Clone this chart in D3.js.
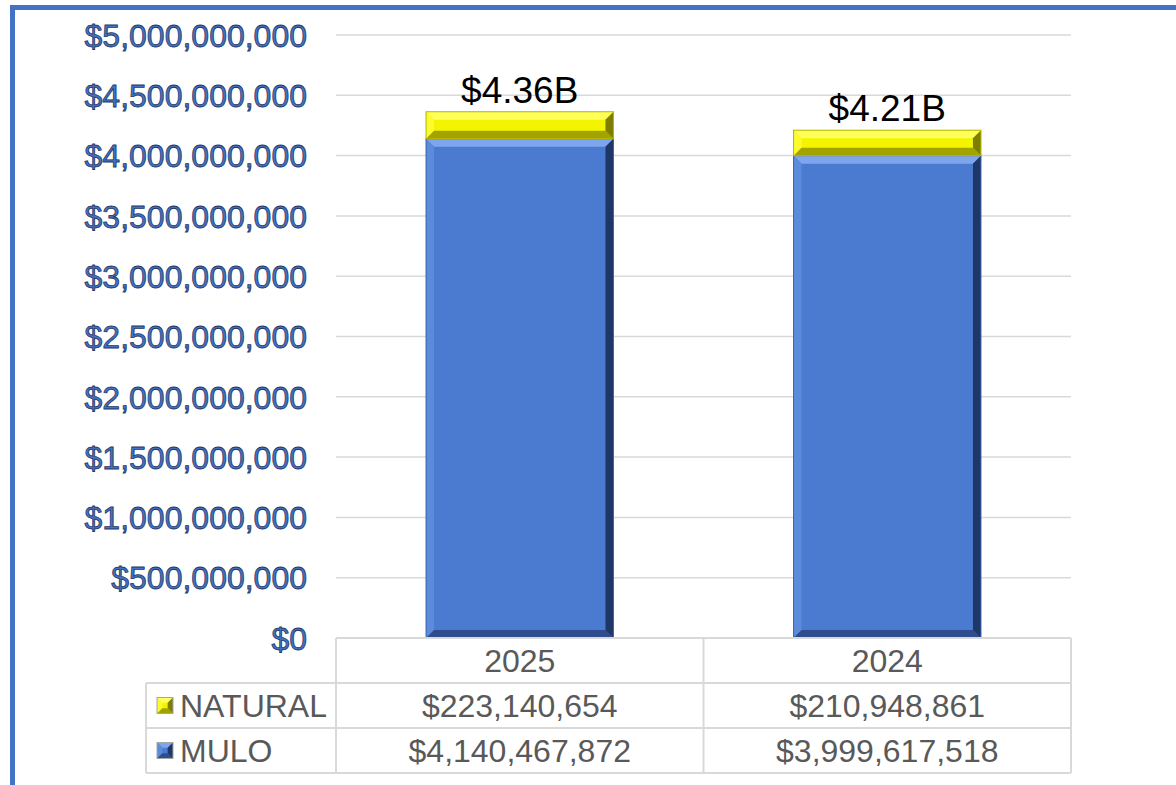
<!DOCTYPE html>
<html>
<head>
<meta charset="utf-8">
<script src="https://cdn.jsdelivr.net/npm/d3@7"></script>
<style>
  html, body { margin: 0; padding: 0; background: #fff; }
  svg { display: block; font-family: Arial, "Liberation Sans", sans-serif; }
</style>
</head>
<body>
<div id="container"></div>
<script>
/* DATA */
const years = ["2025", "2024"];
const seriesNames = ["MULO", "NATURAL"];       // stacking order, bottom first
const muloValues = [4140467872, 3999617518];
const naturalValues = [223140654, 210948861];
const totalLabels = ["$4.36B", "$4.21B"];
const yTicks = [0, 5e8, 1e9, 1.5e9, 2e9, 2.5e9, 3e9, 3.5e9, 4e9, 4.5e9, 5e9];

/* CONSTANTS */
const width = 1176, height = 785;
const plot = { left: 336, right: 1071, top: 35, bottom: 638 };
const rowH = 45;
const legendLeft = 146;
const fmtMoney = d => "$" + d3.format(",")(d);

const colors = {
  MULO: { face: "#4a7bd0", top: "#7ea6ee", left: "#5d8bdb", right: "#1f3766", bottom: "#2d4d8c", stroke: "#3a64ad" },
  NATURAL: { face: "#f4f400", top: "#ffff5a", left: "#fbfb30", right: "#7d7d00", bottom: "#a3a300", stroke: "#b5b500" }
};

const svg = d3.select("#container").append("svg")
  .attr("width", width)
  .attr("height", height);

// outer frame (blue, left and top)
svg.append("rect").attr("x", 10).attr("y", 5).attr("width", width).attr("height", 5).attr("fill", "#4472c4");
svg.append("rect").attr("x", 10).attr("y", 5).attr("width", 5).attr("height", height).attr("fill", "#4472c4");

/* SCALES */
const yScale = d3.scaleLinear().domain([0, 5e9]).range([plot.bottom, plot.top]);
const xBand = d3.scaleBand().domain(years).range([plot.left, plot.right]).padding(0);
const barW = xBand.bandwidth() * 0.51;

// gridlines
svg.append("g").selectAll("line")
  .data(yTicks.filter(d => d > 0))
  .join("line")
  .attr("x1", plot.left).attr("x2", plot.right)
  .attr("y1", d => yScale(d)).attr("y2", d => yScale(d))
  .attr("stroke", "#d9d9d9").attr("stroke-width", 1.5);

// y axis labels
const yAxis = d3.axisLeft(yScale).tickValues(yTicks).tickFormat(fmtMoney).tickSize(0).tickPadding(0);
const yAxisGroup = svg.append("g")
  .attr("transform", `translate(${307}, 0)`)
  .call(yAxis);
yAxisGroup.select(".domain").remove();
yAxisGroup.selectAll("text")
  .attr("font-size", 32)
  .attr("font-family", "Arial, 'Liberation Sans', sans-serif")
  .attr("fill", "#4472c4")
  .attr("stroke", "#1f3864")
  .attr("stroke-width", 0.8)
  .attr("dy", "0.35em");

/* STACKED BARS */
const rows = years.map((y, i) => ({ year: y, MULO: muloValues[i], NATURAL: naturalValues[i] }));
const stacked = d3.stack().keys(seriesNames)(rows);

function bevel(g, x0, y0, x1, y1, c) {
  const b = Math.min(8, (y1 - y0) / 3);
  g.append("rect").attr("x", x0).attr("y", y0).attr("width", x1 - x0).attr("height", y1 - y0).attr("fill", c.face);
  const poly = (pts, fill) => g.append("polygon").attr("points", pts.map(p => p.join(",")).join(" ")).attr("fill", fill);
  poly([[x0, y0], [x1, y0], [x1 - b, y0 + b], [x0 + b, y0 + b]], c.top);
  poly([[x0, y0], [x0 + b, y0 + b], [x0 + b, y1 - b], [x0, y1]], c.left);
  poly([[x0, y1], [x0 + b, y1 - b], [x1 - b, y1 - b], [x1, y1]], c.bottom);
  poly([[x1, y0], [x1, y1], [x1 - b, y1 - b], [x1 - b, y0 + b]], c.right);
  g.append("rect").attr("x", x0).attr("y", y0).attr("width", x1 - x0).attr("height", y1 - y0)
    .attr("fill", "none").attr("stroke", c.stroke).attr("stroke-width", 1);
}

const barsG = svg.append("g");
stacked.forEach(series => {
  series.forEach(d => {
    const cx = xBand(d.data.year) + xBand.bandwidth() / 2;
    bevel(barsG.append("g"), cx - barW / 2, yScale(d[1]), cx + barW / 2, yScale(d[0]), colors[series.key]);
  });
});

// total labels
svg.append("g").selectAll("text")
  .data(stacked[stacked.length - 1])
  .join("text")
  .attr("x", d => xBand(d.data.year) + xBand.bandwidth() / 2)
  .attr("y", d => yScale(d[1]) - 9)
  .attr("text-anchor", "middle")
  .attr("font-size", 37)
  .attr("fill", "#000")
  .text((d, i) => totalLabels[i]);

/* DATA TABLE */
const table = svg.append("g").attr("stroke", "#d9d9d9").attr("stroke-width", 2).attr("fill", "none");
const yHead = plot.bottom, yR1 = plot.bottom + rowH, yR2 = plot.bottom + 2 * rowH, yR3 = plot.bottom + 3 * rowH;
table.append("line").attr("x1", plot.left).attr("x2", plot.right).attr("y1", yHead).attr("y2", yHead);
[yR1, yR2, yR3].forEach(y => table.append("line").attr("x1", legendLeft).attr("x2", plot.right).attr("y1", y).attr("y2", y));
[plot.left, ...years.map(y => xBand(y) + xBand.bandwidth())].forEach(x =>
  table.append("line").attr("x1", x).attr("x2", x).attr("y1", yHead).attr("y2", yR3));
table.append("line").attr("x1", legendLeft).attr("x2", legendLeft).attr("y1", yR1).attr("y2", yR3);

const txt = svg.append("g").attr("font-size", 32).attr("fill", "#595959");
years.forEach((y, i) => {
  const cx = xBand(y) + xBand.bandwidth() / 2;
  txt.append("text").attr("x", cx).attr("y", yHead + rowH / 2).attr("dy", "0.35em").attr("text-anchor", "middle").text(y);
  txt.append("text").attr("x", cx).attr("y", yR1 + rowH / 2).attr("dy", "0.35em").attr("text-anchor", "middle").text(fmtMoney(naturalValues[i]));
  txt.append("text").attr("x", cx).attr("y", yR2 + rowH / 2).attr("dy", "0.35em").attr("text-anchor", "middle").text(fmtMoney(muloValues[i]));
});

// legend keys + names
const legendRows = [{ key: "NATURAL", y: yR1 }, { key: "MULO", y: yR2 }];
legendRows.forEach(r => {
  const kx = 157, ky = r.y + rowH / 2 - 8;
  bevel(svg.append("g"), kx, ky, kx + 16, ky + 16, Object.assign({}, colors[r.key], { stroke: "#a6a6a6" }));
  txt.append("text").attr("x", 180).attr("y", r.y + rowH / 2).attr("dy", "0.35em").text(r.key);
});
</script>
</body>
</html>
